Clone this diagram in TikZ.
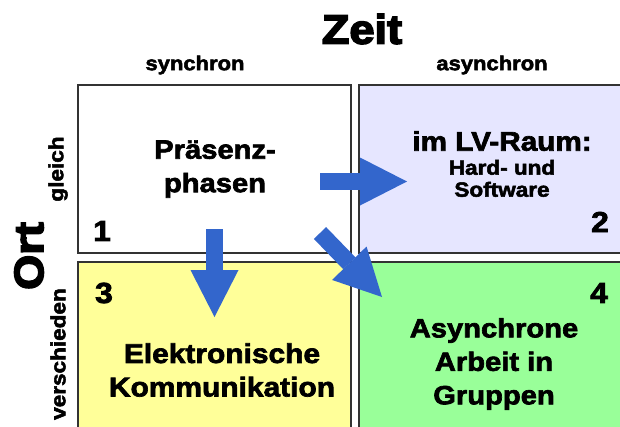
\documentclass[tikz,border=0pt]{standalone}
\usepackage{fontspec}
\usetikzlibrary{arrows.meta}
\newfontfamily\heavy{Liberation Sans Bold}[FakeBold=2.5,FakeStretch=1.1]
\newfontfamily\heavyz{Liberation Sans Bold}[FakeBold=4,FakeStretch=1.1]
\definecolor{lav}{HTML}{E6E6FF}
\definecolor{yel}{HTML}{FFFF99}
\definecolor{grn}{HTML}{99FF99}
\definecolor{arr}{HTML}{3366CC}
\definecolor{bord}{HTML}{333333}
\tikzset{
  cell/.style={draw=bord,line width=1.2pt},
  lbl/.style={inner sep=0pt,align=center,font=\heavy\fontsize{26.5}{33.5}\selectfont},
  head/.style={inner sep=0pt,font=\heavy\fontsize{20}{22}\selectfont},
  num/.style={inner sep=0pt,font=\heavy\fontsize{29}{30}\selectfont},
  side/.style={inner sep=0pt,rotate=90,font=\heavy\fontsize{20.5}{22}\selectfont},
  blockarrow/.style={draw=arr,line width=17pt,-{Triangle[width=48pt,length=47pt,line width=0pt]}},
}
\begin{document}
\begin{tikzpicture}[x=1pt,y=-1pt]
\useasboundingbox (0,0) rectangle (620,426);
\clip (0,0) rectangle (620,426);
\fill[white] (0,0) rectangle (620,426);
% cells
\draw[cell,fill=white] (78,85) rectangle (351,253);
\draw[cell,fill=lav] (359,85) rectangle (640,253);
\draw[cell,fill=yel] (78,262) rectangle (351,450);
\draw[cell,fill=grn] (359,262) rectangle (640,450);
% headings
\node[inner sep=0pt,font=\heavyz\fontsize{41}{42}\selectfont] (zeit) at (362,29) {Zeit};
\node[head] (syn) at (195,65) {synchron};
\node[head] (asyn) at (492,65) {asynchron};
\node[inner sep=0pt,rotate=90,font=\heavyz\fontsize{41}{42}\selectfont] (ort) at (29,256) {Ort};
\node[side] (gleich) at (58,169) {gleich};
\node[side] (versch) at (58,354) {verschieden};
% cell texts
\node[lbl] (t1) at (215,169) {Präsenz-\\phasen};
\node[inner sep=0pt,align=center,font=\heavy\fontsize{20.5}{22}\selectfont] (t2) at (502,164) {{\fontsize{27}{28}\selectfont im LV-Raum:}\\[2pt]Hard- und\\Software};
\node[lbl,font=\heavy\fontsize{27.2}{33.5}\selectfont] (t3) at (222,370) {Elektronische\\Kommunikation};
\node[lbl] (t4) at (494,364) {Asynchrone\\Arbeit in\\Gruppen};
\node[num] (n1) at (102,231) {1};
\node[num] (n2) at (600,222) {2};
\node[num] (n3) at (104,293) {3};
\node[num] (n4) at (599,293) {4};
% arrows
\coordinate (a1s) at (320,181.5);
\coordinate (a1e) at (407,181.5);
\coordinate (a2s) at (214.5,229);
\coordinate (a2e) at (214.5,317);
\coordinate (a3s) at (320,233);
\coordinate (a3e) at (382,297);
\draw[blockarrow] (a1s) -- (a1e);
\draw[blockarrow] (a2s) -- (a2e);
\draw[blockarrow] (a3s) -- (a3e);
\end{tikzpicture}
\end{document}
